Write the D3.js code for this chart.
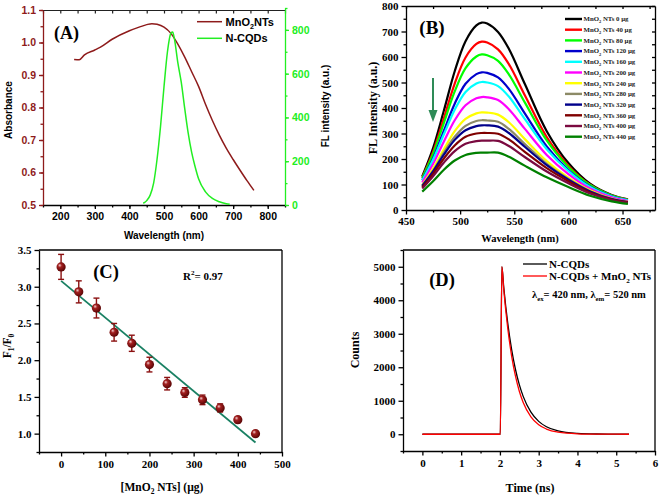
<!DOCTYPE html>
<html><head><meta charset="utf-8">
<script src="https://cdn.jsdelivr.net/npm/d3@7"></script>
<style>body{margin:0;background:#fff}svg{display:block}</style>
</head><body>
<svg id="c" width="661" height="497"></svg>
<script>
// ---------- Panel A data ----------
const aAbsWl = [240,255,270,300,315,350,400,430,450,465,480,500,520,540,560,580,600,620,640,660,680,700,720,740,760];
const aAbs   = [0.948,0.947,0.962,0.977,0.985,1.01,1.036,1.048,1.055,1.058,1.056,1.047,1.028,0.995,0.955,0.91,0.865,0.81,0.76,0.715,0.675,0.64,0.607,0.575,0.545];
const aFlWl  = [440,450,460,470,480,490,500,510,520,525,530,540,550,560,570,580,590,600,620,640,660,680,690];
const aFl    = [8,20,45,100,210,360,540,700,785,790,760,650,560,440,328,240,175,120,60,30,15,6,3];
const aXTicks = [200,300,400,500,600,700,800];
const aYTicks = [0.5,0.6,0.7,0.8,0.9,1.0,1.1];
const aY2Ticks = [0,200,400,600,800];

// ---------- Panel B data ----------
const bWl = [465,475,485,495,505,515,520,525,535,545,560,580,600,620,640,655];
const bDoses = [0,40,80,120,160,200,240,280,320,360,400,440];
const bIntensity = [
  [132,243,390,544,662,724,735,731,698,632,492,309,184,103,59,42],
  [127,228,360,496,598,651,660,657,630,572,448,286,174,99,57,41],
  [125,220,342,465,556,602,610,607,585,532,420,273,169,98,57,40],
  [118,203,311,417,495,533,540,538,520,475,377,249,157,92,54,38],
  [116,197,297,393,463,496,502,500,486,445,355,238,153,90,53,38],
  [108,180,269,352,411,438,443,442,431,395,317,216,141,84,50,35],
  [98,162,238,309,357,379,383,382,374,344,277,192,127,77,45,32],
  [95,154,225,287,330,349,352,351,346,318,258,181,122,74,44,31],
  [94,151,217,275,313,329,332,332,327,302,247,176,119,73,43,31],
  [89,142,202,253,287,300,302,302,299,277,227,164,113,69,41,30],
  [84,132,186,231,260,270,272,272,271,251,207,151,105,65,39,28],
  [72,113,158,194,216,224,225,225,225,209,173,128,90,56,34,24]
];
const bColors = ["#000000","#ff0000","#00ff00","#0000cc","#00ffff","#ff00ff","#ffff00","#8c8a66","#00008b","#7f0000","#7a0a40","#008000"];
const bXTicks = [450,500,550,600,650];
const bYTicks = [0,100,200,300,400,500,600,700,800];

// ---------- Panel C data ----------
const cDose = [0,40,80,120,160,200,240,280,320,360,400,440];
const cRatio = [3.27,2.93,2.71,2.38,2.23,1.94,1.68,1.56,1.46,1.35,1.19,1.0];
const cErr = [0.17,0.15,0.135,0.12,0.11,0.10,0.085,0.065,0.065,0.055,0.04,0.03];
const cFitX = [0,440];
const cFitY = [3.08,0.88];
const cXTicks = [0,100,200,300,400,500];
const cYTicks = [1.0,1.5,2.0,2.5,3.0,3.5];

// ---------- Panel D data ----------
const dTime  = [0,0.5,1.0,1.5,2.01,2.05,2.1,2.2,2.3,2.4,2.5,2.6,2.8,3.0,3.2,3.5,4.0,4.5,5.0,5.33];
const dCQD   = [0,0,0,0,0,5000,4370,3330,2540,1940,1480,1130,660,385,224,99,26,7,2,1];
const dCQDMn = [0,0,0,0,0,5000,4300,3180,2350,1740,1285,950,520,283,155,63,14,3,1,0];
const dXTicks = [0,1,2,3,4,5,6];
const dYTicks = [0,1000,2000,3000,4000,5000];

// ---------- helpers ----------
const svg = d3.select("#c");
const SERIF = "'Liberation Serif','Times New Roman',serif";
const SANS = "'Liberation Sans',Arial,sans-serif";
const range = (a,b,s) => d3.range(a, b + s/2, s);

function axis(parent, tx, ty, scale, orient, o) {
  const mk = {bottom: d3.axisBottom, top: d3.axisTop, left: d3.axisLeft, right: d3.axisRight}[orient];
  const g = parent.append("g").attr("transform", `translate(${tx},${ty})`);
  const gm = g.append("g").call(mk(scale).tickValues(o.minor || []).tickSize(o.minorSize ?? 2.5).tickFormat("").tickSizeOuter(0));
  gm.selectAll("text").remove();
  const ga = g.append("g").call(mk(scale).tickValues(o.major || []).tickSize(o.size ?? 4.5).tickSizeOuter(0)
      .tickPadding(o.pad ?? 3).tickFormat(o.fmt || d3.format("d")));
  if (o.labels === false) ga.selectAll("text").remove();
  gm.select(".domain").remove();
  [gm, ga].forEach(s => {
    s.select(".domain").attr("stroke", o.color).attr("stroke-width", o.lw || 1.3);
    s.selectAll(".tick line").attr("stroke", o.color).attr("stroke-width", o.lw || 1.3);
  });
  ga.selectAll("text").attr("fill", o.textColor || o.color)
    .style("font-family", o.font).style("font-size", o.fontSize + "px").style("font-weight", "bold");
  return g;
}
function addParts(t, parts, size) {
  let pending = 0;
  parts.forEach(p => {
    if (typeof p === "string") {
      const s = t.append("tspan").text(p);
      if (pending) { s.attr("dy", -pending); pending = 0; }
    } else {
      const shift = p.sub ? size * 0.3 : -size * 0.4;
      t.append("tspan").attr("dy", shift - pending).style("font-size", (size * 0.65) + "px").text(p.sub || p.sup);
      pending = shift;
    }
  });
}
function title(x, y, rot, font, size, color, parts) {
  const t = svg.append("text").attr("transform", `translate(${x},${y}) rotate(${rot})`)
    .attr("text-anchor", "middle").attr("dy", "0.35em")
    .style("font-family", font).style("font-size", size + "px").style("font-weight", "bold").attr("fill", color);
  addParts(t, parts, size);
  return t;
}
function rich(x, y, font, size, parts, anchor) {
  const t = svg.append("text").attr("x", x).attr("y", y).attr("dy", "0.35em").attr("text-anchor", anchor || "start")
    .style("font-family", font).style("font-size", size + "px").style("font-weight", "bold").attr("fill", "#000");
  addParts(t, parts, size);
  return t;
}

// ================= Panel A =================
{
  const L = 43, R = 285, T = 10, B = 205;
  const x = d3.scaleLinear([150, 850], [L, R]);
  const y = d3.scaleLinear([0.5, 1.1], [B, T]);
  const y2 = d3.scaleLinear([0, 900], [B, 8]);
  const red = "#8e1b1b", green = "#22ee22";
  axis(svg, 0, T, x, "top", {major: range(150, 850, 50), size: -3.5, labels: false, color: "#222", lw: 1.2});
  axis(svg, 0, B, x, "bottom", {major: aXTicks, minor: range(150, 850, 50), size: 4, minorSize: 2.5, color: "#000", font: SANS, fontSize: 10.5, pad: 4});
  axis(svg, L, 0, y, "left", {major: aYTicks, minor: range(0.5, 1.1, 0.05), size: 4, minorSize: 2.5, color: red, font: SANS, fontSize: 10.5, fmt: d3.format(".1f"), pad: 3});
  axis(svg, R, 0, y2, "right", {major: aY2Ticks, minor: range(0, 900, 100), size: 4, minorSize: 2.5, color: green, font: SANS, fontSize: 10.5, pad: 3});
  svg.append("path").datum(aAbsWl.map((w, i) => [w, aAbs[i]]))
    .attr("d", d3.line().x(d => x(d[0])).y(d => y(d[1])).curve(d3.curveMonotoneX))
    .attr("fill", "none").attr("stroke", red).attr("stroke-width", 1.5);
  svg.append("path").datum(aFlWl.map((w, i) => [w, aFl[i]]))
    .attr("d", d3.line().x(d => x(d[0])).y(d => y2(d[1])).curve(d3.curveMonotoneX))
    .attr("fill", "none").attr("stroke", green).attr("stroke-width", 1.5);
  title(164, 235, 0, SANS, 10, "#000", ["Wavelength (nm)"]);
  title(8, 110, -90, SANS, 10, "#000", ["Absorbance"]);
  title(325, 106, -90, SANS, 10, "#000", ["FL intensity (a.u.)"]);
  svg.append("line").attr("x1", 197).attr("x2", 222).attr("y1", 21.7).attr("y2", 21.7).attr("stroke", red).attr("stroke-width", 1.5);
  svg.append("line").attr("x1", 197).attr("x2", 222).attr("y1", 38.3).attr("y2", 38.3).attr("stroke", green).attr("stroke-width", 1.5);
  rich(225.5, 21.7, SANS, 11, ["MnO", {sub: "2"}, "NTs"]);
  rich(225.5, 38.3, SANS, 11, ["N-CQDs"]);
  rich(66.5, 32.5, SERIF, 18, ["(A)"], "middle");
}

// ================= Panel B =================
{
  const L = 406, R = 655, T = 6, B = 210;
  const x = d3.scaleLinear([450, 680], [L, R]);
  const y = d3.scaleLinear([0, 800], [B, T]);
  axis(svg, 0, T, x, "top", {major: range(450, 675, 25), size: -3, labels: false, color: "#000"});
  axis(svg, R, 0, y, "right", {major: range(0, 800, 50), size: -3, labels: false, color: "#000"});
  axis(svg, 0, B, x, "bottom", {major: bXTicks, minor: range(475, 675, 50), size: 4.5, minorSize: 2.5, color: "#000", font: SERIF, fontSize: 11, pad: 3});
  axis(svg, L, 0, y, "left", {major: bYTicks, minor: range(50, 750, 100), size: 4.5, minorSize: 2.5, color: "#000", font: SERIF, fontSize: 11, pad: 3});
  const line = d3.line().x(d => x(d[0])).y(d => y(d[1])).curve(d3.curveCatmullRom.alpha(0.5));
  bIntensity.forEach((row, i) => {
    svg.append("path").datum(bWl.map((w, j) => [w, row[j]])).attr("d", line)
      .attr("fill", "none").attr("stroke", bColors[i]).attr("stroke-width", 2.2);
  });
  bDoses.forEach((d, i) => {
    const yy = 19 + i * 10.7;
    svg.append("line").attr("x1", 565).attr("x2", 582).attr("y1", yy).attr("y2", yy).attr("stroke", bColors[i]).attr("stroke-width", 2.4);
    rich(583.5, yy, SERIF, 6.8, ["MnO", {sub: "2"}, " NTs " + d + " \u00b5g"]).attr("fill", "#222");
  });
  svg.append("line").attr("x1", 433).attr("x2", 433).attr("y1", 78).attr("y2", 112).attr("stroke", "#2e8b57").attr("stroke-width", 2);
  svg.append("path").attr("d", "M428.5,110 L437.5,110 L433,122 Z").attr("fill", "#2e8b57");
  title(520, 238, 0, SERIF, 10.5, "#000", ["Wavelength (nm)"]);
  title(373, 108, -90, SERIF, 12, "#000", ["FL Intensity (a.u.)"]);
  rich(432, 27, SERIF, 19, ["(B)"], "middle");
}

// ================= Panel C =================
{
  const L = 39, R = 282, T = 250, B = 452;
  const x = d3.scaleLinear([-50, 500], [L, R]);
  const y = d3.scaleLinear([0.75, 3.5], [B, T]);
  svg.append("line").attr("x1", L).attr("x2", R).attr("y1", T).attr("y2", T).attr("stroke", "#000").attr("stroke-width", 1.3);
  svg.append("line").attr("x1", R).attr("x2", R).attr("y1", T).attr("y2", B).attr("stroke", "#000").attr("stroke-width", 1.3);
  axis(svg, 0, B, x, "bottom", {major: cXTicks, minor: range(-50, 450, 100), size: 4.5, minorSize: 2.5, color: "#000", font: SERIF, fontSize: 11, pad: 4});
  axis(svg, L, 0, y, "left", {major: cYTicks, minor: range(0.75, 3.25, 0.5), size: 4.5, minorSize: 2.5, color: "#000", font: SERIF, fontSize: 11, fmt: d3.format(".1f"), pad: 3});
  svg.append("path").datum(cFitX.map((v, i) => [v, cFitY[i]]))
    .attr("d", d3.line().x(d => x(d[0])).y(d => y(d[1])))
    .attr("stroke", "#198063").attr("stroke-width", 1.8).attr("fill", "none");
  const defs = svg.append("defs");
  const gr = defs.append("radialGradient").attr("id", "ball").attr("cx", "40%").attr("cy", "40%").attr("r", "60%").attr("fx", "35%").attr("fy", "32%");
  gr.append("stop").attr("offset", "0%").attr("stop-color", "#f4d0d0");
  gr.append("stop").attr("offset", "35%").attr("stop-color", "#a32020");
  gr.append("stop").attr("offset", "100%").attr("stop-color", "#5a0505");
  const eb = svg.append("g").attr("stroke", "#8b1010").attr("stroke-width", 1.4);
  cDose.forEach((d, i) => {
    const cx = x(d), y1 = y(cRatio[i] + cErr[i]), y0 = y(cRatio[i] - cErr[i]);
    eb.append("line").attr("x1", cx).attr("x2", cx).attr("y1", y1).attr("y2", y0);
    eb.append("line").attr("x1", cx - 3).attr("x2", cx + 3).attr("y1", y1).attr("y2", y1);
    eb.append("line").attr("x1", cx - 3).attr("x2", cx + 3).attr("y1", y0).attr("y2", y0);
  });
  svg.append("g").selectAll("circle").data(cDose).join("circle")
    .attr("cx", d => x(d)).attr("cy", (d, i) => y(cRatio[i])).attr("r", 4.6).attr("fill", "url(#ball)");
  title(162, 487, 0, SERIF, 11.5, "#000", ["[MnO", {sub: "2"}, " NTs] (\u00b5g)"]);
  title(7, 346, -90, SERIF, 11.5, "#000", ["F", {sub: "1"}, "/F", {sub: "0"}]);
  rich(106, 272, SERIF, 18.5, ["(C)"], "middle");
  rich(183, 276, SERIF, 11, ["R", {sup: "2"}, "= 0.97"]);
}

// ================= Panel D =================
{
  const L = 403, R = 655, T = 250, B = 451;
  const x = d3.scaleLinear([-0.5, 6], [L, R]);
  const y = d3.scaleLinear([-500, 5500], [B, T]);
  svg.append("line").attr("x1", L).attr("x2", R).attr("y1", T).attr("y2", T).attr("stroke", "#000").attr("stroke-width", 1.3);
  svg.append("line").attr("x1", R).attr("x2", R).attr("y1", T).attr("y2", B).attr("stroke", "#000").attr("stroke-width", 1.3);
  axis(svg, 0, B, x, "bottom", {major: dXTicks, minor: range(-0.5, 5.5, 1), size: 4.5, minorSize: 2.5, color: "#000", font: SERIF, fontSize: 11, pad: 4});
  axis(svg, L, 0, y, "left", {major: dYTicks, minor: range(-500, 5500, 1000), size: 4.5, minorSize: 2.5, color: "#000", font: SERIF, fontSize: 11, pad: 3});
  const line = d3.line().x(d => x(d[0])).y(d => y(d[1])).curve(d3.curveMonotoneX);
  svg.append("path").datum(dTime.map((t, i) => [t, dCQD[i]])).attr("d", line).attr("fill", "none").attr("stroke", "#000").attr("stroke-width", 1.3);
  svg.append("path").datum(dTime.map((t, i) => [t, dCQDMn[i]])).attr("d", line).attr("fill", "none").attr("stroke", "#ff0000").attr("stroke-width", 1.3);
  svg.append("line").attr("x1", 523).attr("x2", 547).attr("y1", 264).attr("y2", 264).attr("stroke", "#000").attr("stroke-width", 1.3);
  svg.append("line").attr("x1", 523).attr("x2", 547).attr("y1", 276).attr("y2", 276).attr("stroke", "#ff0000").attr("stroke-width", 1.3);
  rich(549, 264, SERIF, 11, ["N-CQDs"]);
  rich(549, 276, SERIF, 11, ["N-CQDs + MnO", {sub: "2"}, " NTs"]);
  rich(532, 294, SERIF, 10.5, ["\u03bb", {sub: "ex"}, "= 420 nm, \u03bb", {sub: "em"}, "= 520 nm"]);
  title(530, 488, 0, SERIF, 12, "#000", ["Time (ns)"]);
  title(355, 350, -90, SERIF, 12, "#000", ["Counts"]);
  rich(442, 280, SERIF, 18.5, ["(D)"], "middle");
}
</script>
</body></html>
